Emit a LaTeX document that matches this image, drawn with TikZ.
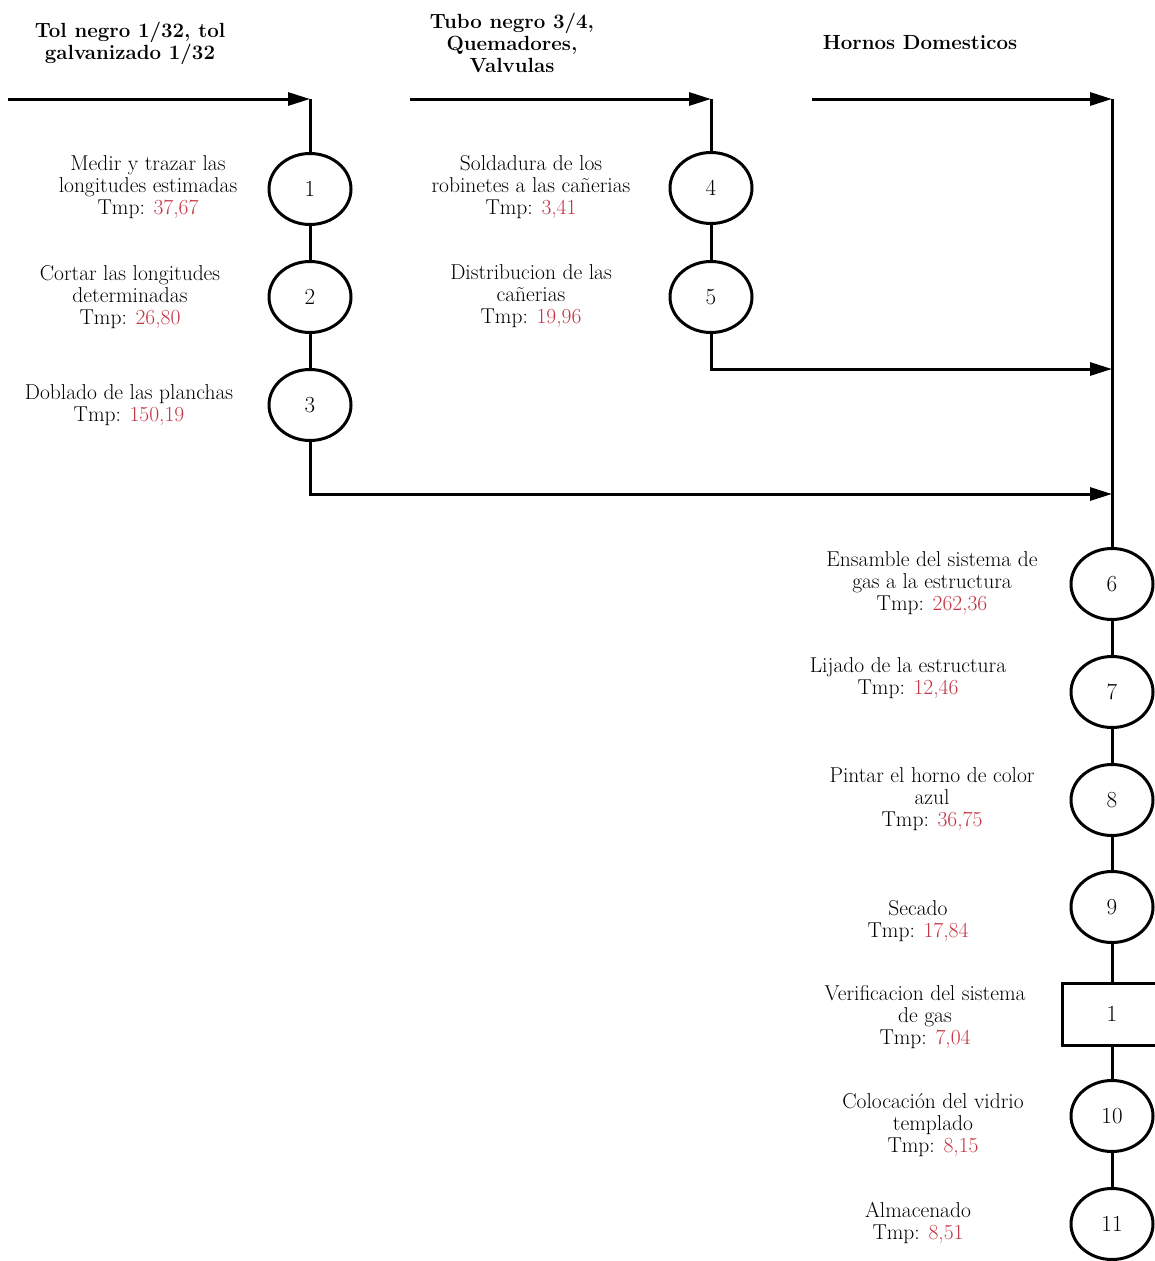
\documentclass[tikz,border=0pt]{standalone}
\usepackage{fontspec}
\usetikzlibrary{arrows.meta,shapes.geometric}
\definecolor{tmpred}{RGB}{196,52,66}
\begin{document}
\begin{tikzpicture}[x=1pt,y=-1pt,
  flow/.style={line width=3pt},
  arr/.style={flow,-{Triangle[length=22pt,width=13pt]}},
  op/.style={draw,line width=3pt,ellipse,minimum width=82pt,minimum height=71pt,inner sep=0pt,font=\fontsize{23}{26}\selectfont},
  insp/.style={draw,line width=3pt,rectangle,minimum width=100pt,minimum height=62pt,inner sep=0pt,font=\fontsize{23}{26}\selectfont},
  lbl/.style={align=center,font=\fontsize{21.5}{22}\selectfont},
  hdr/.style={align=center,font=\bfseries\fontsize{20.5}{22}\selectfont}]
\useasboundingbox (0,0) rectangle (1154,1261);
\newcommand{\tmp}[1]{Tmp: \textcolor{tmpred}{#1}}

% material headers
\node[hdr] (h1) at (130,43) {Tol negro 1/32, tol\\galvanizado 1/32};
\node[hdr] (h2) at (512,43) {Tubo negro 3/4,\\Quemadores,\\Valvulas};
\node[hdr] (h3) at (920,43) {Hornos Domesticos};

% entry points and junctions
\coordinate (s1) at (8,99);
\coordinate (j1) at (310,99);
\coordinate (s2) at (410,99);
\coordinate (j2) at (711,99);
\coordinate (s3) at (812,99);
\coordinate (j3) at (1112,99);
\coordinate (m5) at (1112,369);
\coordinate (m3) at (1112,494);

% operations
\node[op] (c1) at (310,189) {1};
\node[op] (c2) at (310,297) {2};
\node[op] (c3) at (310,405) {3};
\node[op] (c4) at (711,188) {4};
\node[op] (c5) at (711,297) {5};
\node[op] (c6) at (1112,584) {6};
\node[op] (c7) at (1112,692) {7};
\node[op] (c8) at (1112,800) {8};
\node[op] (c9) at (1112,907) {9};
\node[insp] (r1) at (1112,1014) {1};
\node[op] (c10) at (1112,1116) {10};
\node[op] (c11) at (1112,1224) {11};

% descriptions
\node[lbl] (l1) at (148,187) {Medir y trazar las\\longitudes estimadas\\\tmp{37,67}};
\node[lbl] (l2) at (130,297) {Cortar las longitudes\\determinadas\\\tmp{26,80}};
\node[lbl] (l3) at (129,405) {Doblado de las planchas\\\tmp{150,19}};
\node[lbl] (l4) at (531,187) {Soldadura de los\\robinetes a las cañerias\\\tmp{3,41}};
\node[lbl] (l5) at (531,296) {Distribucion de las\\cañerias\\\tmp{19,96}};
\node[lbl] (l6) at (932,583) {Ensamble del sistema de\\gas a la estructura\\\tmp{262,36}};
\node[lbl] (l7) at (908,678) {Lijado de la estructura\\\tmp{12,46}};
\node[lbl] (l8) at (932,799) {Pintar el horno de color\\azul\\\tmp{36,75}};
\node[lbl] (l9) at (918,921) {Secado\\\tmp{17,84}};
\node[lbl] (lr) at (925,1017) {Verificacion del sistema\\de gas\\\tmp{7,04}};
\node[lbl] (l10) at (933,1125) {Colocación del vidrio\\templado\\\tmp{8,15}};
\node[lbl] (l11) at (918,1223) {Almacenado\\\tmp{8,51}};

% incoming material lines
\draw[arr] (s1) -- (j1);
\draw[arr] (s2) -- (j2);
\draw[arr] (s3) -- (j3);

% first branch
\draw[flow] (j1) -- (c1);
\draw[flow] (c1) -- (c2);
\draw[flow] (c2) -- (c3);
\draw[arr] (c3) |- (m3);

% second branch
\draw[flow] (j2) -- (c4);
\draw[flow] (c4) -- (c5);
\draw[arr] (c5) |- (m5);

% main assembly line
\draw[flow] (j3) -- (c6);
\draw[flow] (c6) -- (c7);
\draw[flow] (c7) -- (c8);
\draw[flow] (c8) -- (c9);
\draw[flow] (c9) -- (r1);
\draw[flow] (r1) -- (c10);
\draw[flow] (c10) -- (c11);
\end{tikzpicture}
\end{document}
